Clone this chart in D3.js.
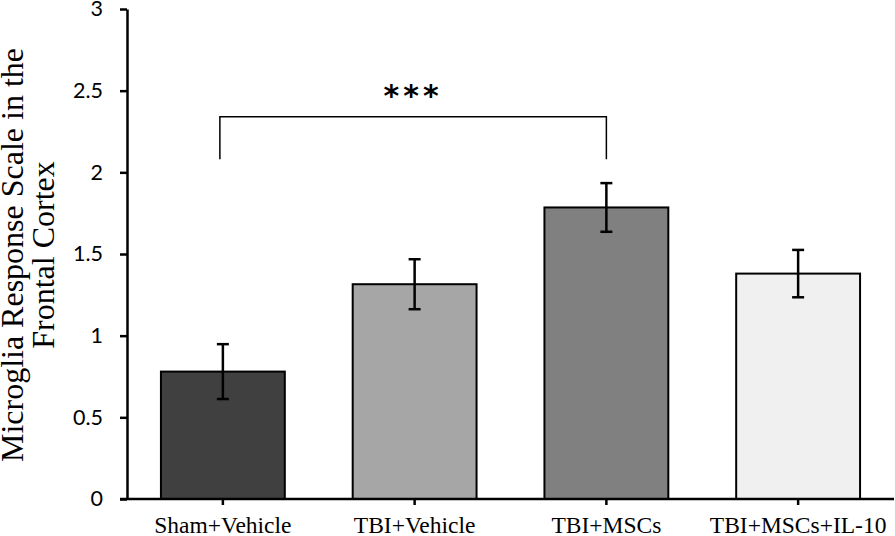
<!DOCTYPE html>
<html><head><meta charset="utf-8">
<script src="https://cdn.jsdelivr.net/npm/d3@7"></script>
<style>body{margin:0;background:#fff}svg{display:block}</style>
</head><body>
<script>
const categories = ["Sham+Vehicle", "TBI+Vehicle", "TBI+MSCs", "TBI+MSCs+IL-10"];
const values = [0.78, 1.315, 1.785, 1.38];
const errors = [0.168, 0.153, 0.149, 0.145];
const colors = ["#404040", "#a6a6a6", "#808080", "#f0f0f0"];
const yTicks = [0, 0.5, 1, 1.5, 2, 2.5, 3];
const yTitle = ["Microglia Response Scale in the", "Frontal Cortex"];
const sigLabel = "***";
const sigPair = [0, 2];

const W = 895, H = 536;
const svg = d3.select("body").append("svg").attr("width", W).attr("height", H);
const x = d3.scaleBand().domain(categories).range([127, 894]).paddingInner(0.354).paddingOuter(0.177);
const y = d3.scaleLinear().domain([0, 3]).range([499, 9]);

// bars
svg.selectAll("rect.bar").data(categories).enter().append("rect")
  .attr("x", d => x(d)).attr("width", x.bandwidth())
  .attr("y", (d, i) => y(values[i])).attr("height", (d, i) => y(0) - y(values[i]))
  .attr("fill", (d, i) => colors[i]).attr("stroke", "#000").attr("stroke-width", 2);

// error bars
const eb = svg.append("g").attr("stroke", "#000").attr("stroke-width", 2.5);
categories.forEach((c, i) => {
  const cx = x(c) + x.bandwidth() / 2;
  eb.append("line").attr("x1", cx).attr("x2", cx).attr("y1", y(values[i] + errors[i])).attr("y2", y(values[i] - errors[i]));
  [values[i] + errors[i], values[i] - errors[i]].forEach(v => {
    eb.append("line").attr("x1", cx - 6).attr("x2", cx + 6).attr("y1", y(v)).attr("y2", y(v));
  });
});

// y axis
const ya = svg.append("g").attr("transform", "translate(127,0)")
  .call(d3.axisLeft(y).tickValues(yTicks).tickSize(7).tickSizeOuter(0).tickPadding(17).tickFormat(d => String(d)));
ya.select(".domain").attr("stroke-width", 2.5);
ya.selectAll(".tick line").attr("stroke-width", 2.5);
ya.selectAll("text").attr("font-family", "Lato, 'Open Sans', sans-serif").attr("font-size", 21.5).attr("fill", "#000");

// x axis
const xa = svg.append("g").attr("transform", `translate(0,${y(0)})`)
  .call(d3.axisBottom(x).tickSize(6).tickSizeOuter(0).tickPadding(10));
xa.select(".domain").attr("d", "M120,0H894").attr("stroke-width", 2.5);
xa.selectAll(".tick line").attr("stroke-width", 2.5);
xa.selectAll("text").attr("font-family", "'Liberation Serif', 'Times New Roman', serif").attr("font-size", 23.5).attr("fill", "#000").attr("dy", "0.75em");

// y title
const t = svg.append("text").attr("transform", `translate(0,255) rotate(-90)`)
  .attr("text-anchor", "middle").attr("font-family", "'Liberation Serif', 'Times New Roman', serif").attr("font-size", 32).attr("fill", "#000");
yTitle.forEach((s, i) => t.append("tspan").attr("x", 0).attr("y", 23 + i * 31).text(s));

// significance bracket
const bx1 = x(categories[sigPair[0]]) + x.bandwidth() / 2 - 3;
const bx2 = x(categories[sigPair[1]]) + x.bandwidth() / 2;
const by = y(2.34), byLow = y(2.08);
svg.append("path").attr("d", `M${bx1},${byLow}V${by}H${bx2}V${byLow}`)
  .attr("fill", "none").attr("stroke", "#000").attr("stroke-width", 1.5);
svg.append("text").attr("x", (bx1 + bx2) / 2).attr("y", 106).attr("text-anchor", "middle")
  .attr("font-family", "'DejaVu Sans', sans-serif").attr("font-weight", "bold").attr("font-size", 30)
  .attr("letter-spacing", 4).text(sigLabel);
</script>
</body></html>
